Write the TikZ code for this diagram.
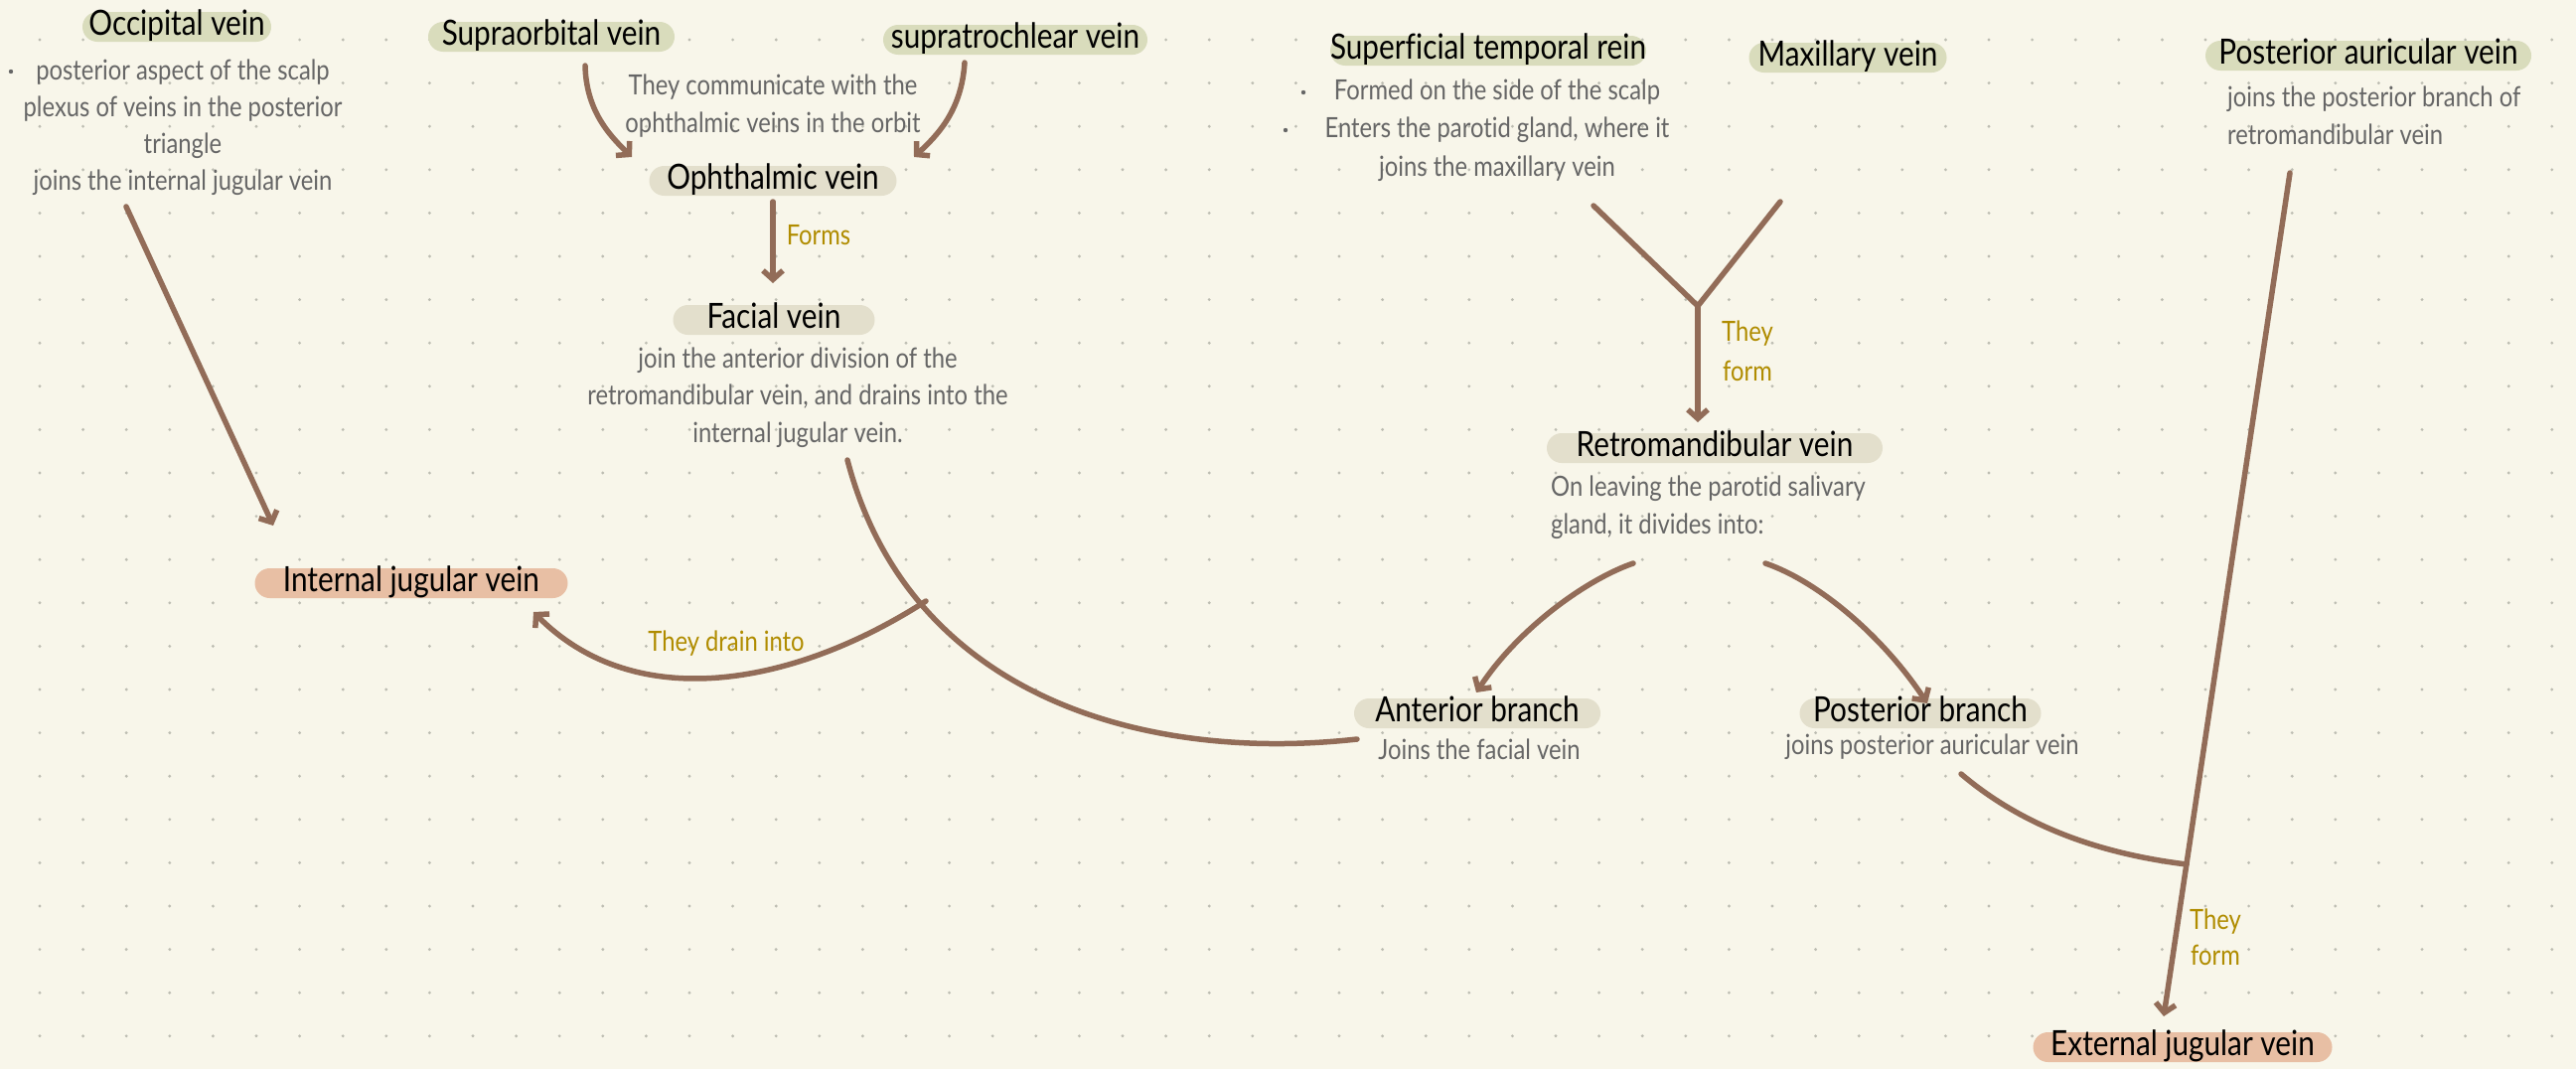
\documentclass[tikz,border=0pt]{standalone}
\usepackage{fontspec}
\setmainfont{Lato}[FakeStretch=0.85, Ligatures=CommonOff]
\usetikzlibrary{arrows.meta}
\definecolor{bgc}{HTML}{F8F6EA}
\definecolor{dotc}{HTML}{BDBDB2}
\definecolor{pgreen}{HTML}{D9DCBC}
\definecolor{pbeige}{HTML}{E3DFCC}
\definecolor{psalmon}{HTML}{E8BFA4}
\definecolor{arrowc}{HTML}{926C58}
\definecolor{desccol}{HTML}{666666}
\definecolor{goldc}{HTML}{B08C00}
\tikzset{
  pill/.style={rounded corners=15pt, minimum height=30pt, inner sep=0pt,
    text height=23pt, text depth=7pt, font=\fontsize{35}{40}\selectfont, text=black},
  gpill/.style={pill, fill=pgreen},
  bpill/.style={pill, fill=pbeige},
  spill/.style={pill, fill=psalmon},
  desc/.style={text=desccol, font=\fontsize{28}{38}\selectfont, align=center, inner sep=0pt},
  lbl/.style={text=goldc, font=\fontsize{28}{38}\selectfont, align=center, inner sep=0pt},
  conn/.style={draw=arrowc, line width=5.5pt, line cap=round, line join=round},
  arr/.style={conn, -{Straight Barb[length=9pt,width=20pt]}},
  bullet/.style={fill=desccol},
}
\begin{document}
\begin{tikzpicture}[x=1pt,y=-1pt]
\useasboundingbox (0,0) rectangle (2593,1076);
\fill[bgc] (0,0) rectangle (2593,1076);
\foreach \i in {0,...,58}{
  \foreach \j in {0,...,23}{
    \fill[dotc] (40+43.6*\i, 40+43.6*\j) circle (1.6);
  }
}

% title pills
\node[gpill, minimum width=190pt] (occ) at (178,27) {Occipital vein};
\node[gpill, minimum width=248pt] (supo) at (555,37) {Supraorbital vein};
\node[gpill, minimum width=266pt] (supt) at (1022,40) {supratrochlear vein};
\node[bpill, minimum width=249pt] (oph) at (778,182) {Ophthalmic vein};
\node[bpill, minimum width=203pt] (fac) at (779,322) {Facial vein};
\node[spill, minimum width=315pt] (ijv) at (414,587) {Internal jugular vein};
\node[gpill, minimum width=315pt] (stv) at (1498,51) {Superficial temporal rein};
\node[gpill, minimum width=199pt] (max) at (1860,58) {Maxillary vein};
\node[gpill, minimum width=328pt] (pav) at (2384,56) {Posterior auricular vein};
\node[bpill, minimum width=338pt] (rmv) at (1726,451) {Retromandibular vein};
\node[bpill, minimum width=248pt] (ant) at (1487,718) {Anterior branch};
\node[bpill, minimum width=243pt] (post) at (1933,718) {Posterior branch};
\node[spill, minimum width=301pt] (ejv) at (2197,1054) {External jugular vein};

% descriptions
\node[desc, font=\fontsize{28}{37}\selectfont] (occd) at (184,128)
  {posterior aspect of the scalp\\plexus of veins in the posterior\\triangle\\joins the internal jugular vein};
\fill[bullet] (11,72) circle (2.2);
\node[desc] (supd) at (778,107) {They communicate with the\\ophthalmic veins in the orbit};
\node[desc, font=\fontsize{28}{37.5}\selectfont] (facd) at (803,400)
  {join the anterior division of the\\retromandibular vein, and drains into the\\internal jugular vein.};
\node[desc, font=\fontsize{28}{38.5}\selectfont] (stvd) at (1507,131)
  {Formed on the side of the scalp\\Enters the parotid gland, where it\\joins the maxillary vein};
\fill[bullet] (1312,93) circle (2.2);
\fill[bullet] (1294,131) circle (2.2);
\node[desc, align=left, anchor=west] (pavd) at (2242,116)
  {joins the posterior branch of\\retromandibular vein};
\node[desc, align=left, anchor=west] (rmvd) at (1561,511)
  {On leaving the parotid salivary\\gland, it divides into:};
\node[desc] (antd) at (1489,754) {Joins the facial vein};
\node[desc] (postd) at (1945,752) {joins posterior auricular vein};

% edge labels
\node[lbl] (lforms) at (824,237) {Forms};
\node[lbl] (ldrain) at (731,648) {They drain into};
\node[lbl, font=\fontsize{28}{40}\selectfont] (lform1) at (1759,353) {They\\form};
\node[lbl, font=\fontsize{28}{36}\selectfont] (lform2) at (2230,943) {They\\form};

% connector end points
\coordinate (occ-s) at (127,208);
\coordinate (ijv-t) at (275,529);
\coordinate (supo-s) at (589,66);
\coordinate (oph-l) at (636,158);
\coordinate (supt-s) at (971,63);
\coordinate (oph-r) at (920,158);
\coordinate (oph-s) at (778,203);
\coordinate (fac-t) at (778,285);
\coordinate (fac-s) at (853,463);
\coordinate (ant-l) at (1366,744);
\coordinate (drain-s) at (932,605);
\coordinate (ijv-b) at (537,616);
\coordinate (stv-s) at (1604,207);
\coordinate (max-s) at (1792,203);
\coordinate (yjoin) at (1709,308);
\coordinate (rmv-t) at (1709,425);
\coordinate (rmv-l) at (1644,567);
\coordinate (ant-t) at (1486,697);
\coordinate (rmv-r) at (1777,567);
\coordinate (post-t) at (1940,708);
\coordinate (pav-s) at (2305,174);
\coordinate (ejv-t) at (2178,1023);
\coordinate (post-s) at (1974,779);
\coordinate (ejoin) at (2201,870);

% connectors
\draw[arr] (occ-s) -- (ijv-t);
\draw[arr] (supo-s) .. controls (590,110) and (612,135) .. (oph-l);
\draw[arr] (supt-s) .. controls (968,110) and (945,135) .. (oph-r);
\draw[arr] (oph-s) -- (fac-t);
\draw[conn] (fac-s) .. controls (915,700) and (1150,768) .. (ant-l);
\draw[arr] (drain-s) .. controls (800,690) and (640,720) .. (ijv-b);
\draw[conn] (stv-s) -- (yjoin) -- (max-s);
\draw[arr] (yjoin) -- (rmv-t);
\draw[arr] (rmv-l) .. controls (1600,582) and (1530,630) .. (ant-t);
\draw[arr] (rmv-r) .. controls (1830,585) and (1895,640) .. (post-t);
\draw[arr] (pav-s) -- (ejv-t);
\draw[conn] (post-s) .. controls (2040,835) and (2120,860) .. (ejoin);
\end{tikzpicture}
\end{document}
